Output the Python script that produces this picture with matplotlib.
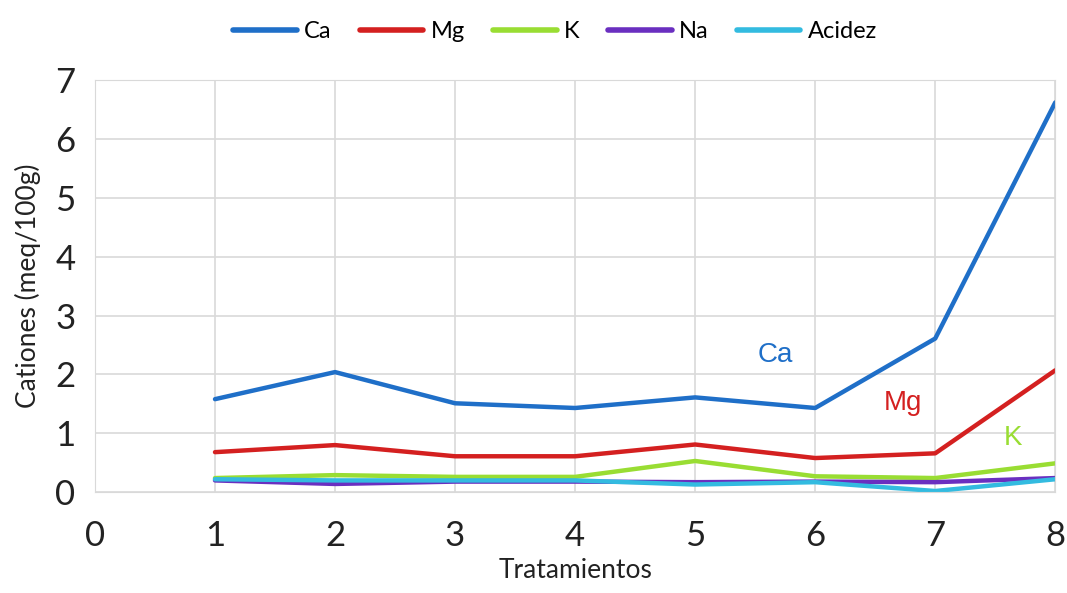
import matplotlib.pyplot as plt

tratamientos = [1, 2, 3, 4, 5, 6, 7, 8]
ca = [1.58, 2.04, 1.51, 1.43, 1.61, 1.43, 2.61, 6.62]
mg = [0.68, 0.80, 0.61, 0.61, 0.81, 0.58, 0.66, 2.07]
k = [0.24, 0.29, 0.26, 0.26, 0.53, 0.27, 0.24, 0.49]
na = [0.20, 0.14, 0.18, 0.18, 0.17, 0.18, 0.17, 0.24]
acidez = [0.22, 0.20, 0.20, 0.20, 0.13, 0.17, 0.02, 0.22]

series = ["Ca", "Mg", "K", "Na", "Acidez"]
colores = ["#1f6fc8", "#d42020", "#99dd33", "#6a2fc0", "#33bbe0"]

plt.rcParams['font.family'] = ['Lato', 'DejaVu Sans']

fig = plt.figure(figsize=(10.67, 5.93), dpi=100)
ax = fig.add_axes([0.089, 0.170, 0.900, 0.695])

for nombre, valores, color in zip(series, [ca, mg, k, na, acidez], colores):
    ax.plot(tratamientos, valores, color=color, linewidth=3.2, label=nombre,
            solid_capstyle='round')

ax.set_xlim(0, 8)
ax.set_ylim(0, 7)
ax.set_xticks(range(0, 9))
ax.set_yticks(range(0, 8))
ax.grid(True, color="#d9d9d9", linewidth=1.2)
ax.set_axisbelow(True)
ax.tick_params(length=0, labelsize=25, colors="#222222")
ax.tick_params(axis="x", pad=20)
ax.tick_params(axis="y", pad=14)
for s in ax.spines.values():
    s.set_color("#d9d9d9")

ax.set_xlabel("Tratamientos", fontsize=19, labelpad=4, color="#222222")
ax.set_ylabel("Cationes (meq/100g)", fontsize=19, labelpad=10, color="#222222")

# etiquetas de las series principales
ax.text(5.67, 2.33, "Ca", color=colores[0], fontsize=20, family="Liberation Sans",
        ha="center", va="center")
ax.text(6.73, 1.51, "Mg", color=colores[1], fontsize=20, family="Liberation Sans",
        ha="center", va="center")
ax.text(7.65, 0.92, "K", color=colores[2], fontsize=20, family="Liberation Sans",
        ha="center", va="center")

fig.legend(loc="upper center", bbox_to_anchor=(0.52, 1.0), ncol=5, frameon=False,
           fontsize=17, handlelength=2.7, columnspacing=1.2, handletextpad=0.3)
for ln in fig.legends[0].get_lines():
    ln.set_linewidth(4)

fig.savefig("out.png", dpi=100, facecolor="white")
